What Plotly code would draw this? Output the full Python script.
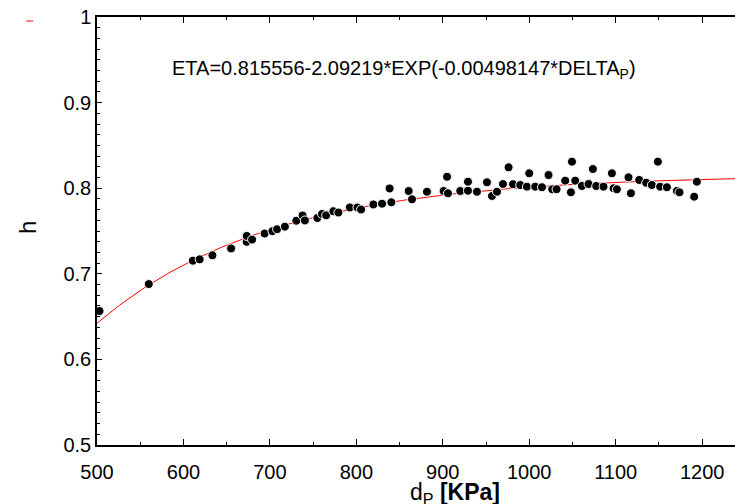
import numpy as np
import plotly.graph_objects as go

# Measured data: pressure drop (KPa) vs efficiency
delta_p = [502.9, 559.9, 610.8, 618.8, 633.5, 655.1, 673.1, 673.2, 679.4, 693.9,
           702.9, 708.3, 717.3, 730.6, 737.8, 740.5, 754.9, 760.3, 765.1, 773.4,
           779.2, 792.5, 801.2, 805.5, 819.7, 829.7, 840.5, 838.5, 860.5, 864.4,
           881.7, 900.9, 904.9, 906.0, 920.2, 929.1, 929.1, 939.5, 951.1, 956.9,
           962.7, 969.6, 976.1, 981.2, 989.6, 997.3, 1000.0, 1006.9, 1014.7, 1022.3,
           1026.6, 1031.6, 1041.6, 1049.4, 1048.2, 1053.2, 1060.9, 1068.6, 1073.6, 1077.5,
           1085.9, 1095.6, 1097.5, 1101.4, 1114.8, 1117.6, 1127.2, 1135.3, 1141.8, 1148.8,
           1151.4, 1159.2, 1170.8, 1173.8, 1190.8, 1193.9]
eta = [0.6565, 0.688, 0.7153, 0.7169, 0.7216, 0.7296, 0.7374, 0.7442, 0.740, 0.747,
       0.7498, 0.752, 0.7551, 0.762, 0.7681, 0.7623, 0.7652, 0.7699, 0.7683, 0.7731,
       0.7716, 0.7775, 0.7775, 0.7751, 0.781, 0.7819, 0.7835, 0.7997, 0.7967, 0.787,
       0.7959, 0.7967, 0.8134, 0.794, 0.7967, 0.7971, 0.8076, 0.7959, 0.8069, 0.7909,
       0.7959, 0.8049, 0.8244, 0.8046, 0.8037, 0.8018, 0.8174, 0.8018, 0.8011, 0.8154,
       0.7987, 0.7988, 0.8088, 0.831, 0.7952, 0.8088, 0.8026, 0.8049, 0.8224, 0.8026,
       0.8018, 0.8174, 0.7999, 0.7987, 0.8127, 0.7941, 0.8096, 0.8064, 0.8037, 0.831,
       0.8018, 0.8011, 0.7967, 0.7952, 0.7901, 0.8076]

# Fitted model coefficients as printed on the chart
fit_a = 0.815556
fit_b = 2.09219
fit_c = 0.00498147
fit_x = np.linspace(500, 1238, 200)
fit_y = fit_a - fit_b * np.exp(-fit_c * fit_x)

x_ticks = [500, 600, 700, 800, 900, 1000, 1100, 1200]
y_ticks = [0.5, 0.6, 0.7, 0.8, 0.9, 1.0]
y_tick_labels = ["0.5", "0.6", "0.7", "0.8", "0.9", "1"]

FONT = "Liberation Sans, Arial, sans-serif"

fig = go.Figure()
fig.add_trace(go.Scatter(x=fit_x, y=fit_y, mode="lines",
                         line=dict(color="#ff0000", width=1), showlegend=False,
                         cliponaxis=True))
fig.add_trace(go.Scatter(x=delta_p, y=eta, mode="markers",
                         marker=dict(color="black", size=9,
                                     line=dict(color="white", width=1)),
                         showlegend=False))

fig.update_layout(
    width=735, height=504,
    margin=dict(l=97, r=0, t=17, b=59, autoexpand=False),
    paper_bgcolor="white", plot_bgcolor="white",
    font=dict(family=FONT, color="black", size=20),
    showlegend=False,
)
fig.update_xaxes(
    range=[500, 1238], tickvals=x_ticks, ticktext=[str(v) for v in x_ticks],
    ticks="inside", ticklen=6, tickwidth=1, tickcolor="black",
    showline=True, linecolor="black", linewidth=1.5, mirror="ticks",
    showgrid=False, zeroline=False, automargin=False, ticklabelstandoff=8,
    tickfont=dict(size=20, family=FONT),
    minor=dict(dtick=50, tick0=500, ticks="inside", ticklen=3, tickcolor="black", showgrid=False),
)
fig.update_yaxes(
    range=[0.5, 1.0], tickvals=y_ticks, ticktext=y_tick_labels,
    ticks="inside", ticklen=5, tickwidth=1, tickcolor="black",
    showline=True, linecolor="black", linewidth=1.5, mirror=False,
    showgrid=False, zeroline=False, automargin=False,
    tickfont=dict(size=20, family=FONT),
    minor=dict(dtick=0.0125, tick0=0.5, ticks="inside", ticklen=3, tickcolor="black", showgrid=False),
)

fig.add_annotation(text="ETA=0.815556-2.09219*EXP(-0.00498147*DELTA<sub>P</sub>)",
                   xref="paper", yref="paper", x=0.1144, y=0.8785,
                   xanchor="left", yanchor="middle", showarrow=False,
                   font=dict(size=20, family=FONT, color="black"))
fig.add_annotation(text="h", xref="paper", yref="paper", x=-0.11, y=0.509,
                   xanchor="center", yanchor="middle", textangle=-90, showarrow=False,
                   font=dict(size=24, family=FONT, color="black"))
fig.add_annotation(text="d<sub>P</sub> <b>[KPa]</b>", xref="paper", yref="paper",
                   x=0.561, y=-0.113, xanchor="center", yanchor="middle", showarrow=False,
                   font=dict(size=23, family=FONT, color="black"))
fig.add_shape(type="line", xref="paper", yref="paper",
              x0=-0.111, x1=-0.100, y0=0.9907, y1=0.9907,
              line=dict(color="#ff0000", width=1))

fig.write_html("out.html", config={"displayModeBar": False},
               post_script="document.body.style.margin='0';document.body.style.overflow='hidden';")
